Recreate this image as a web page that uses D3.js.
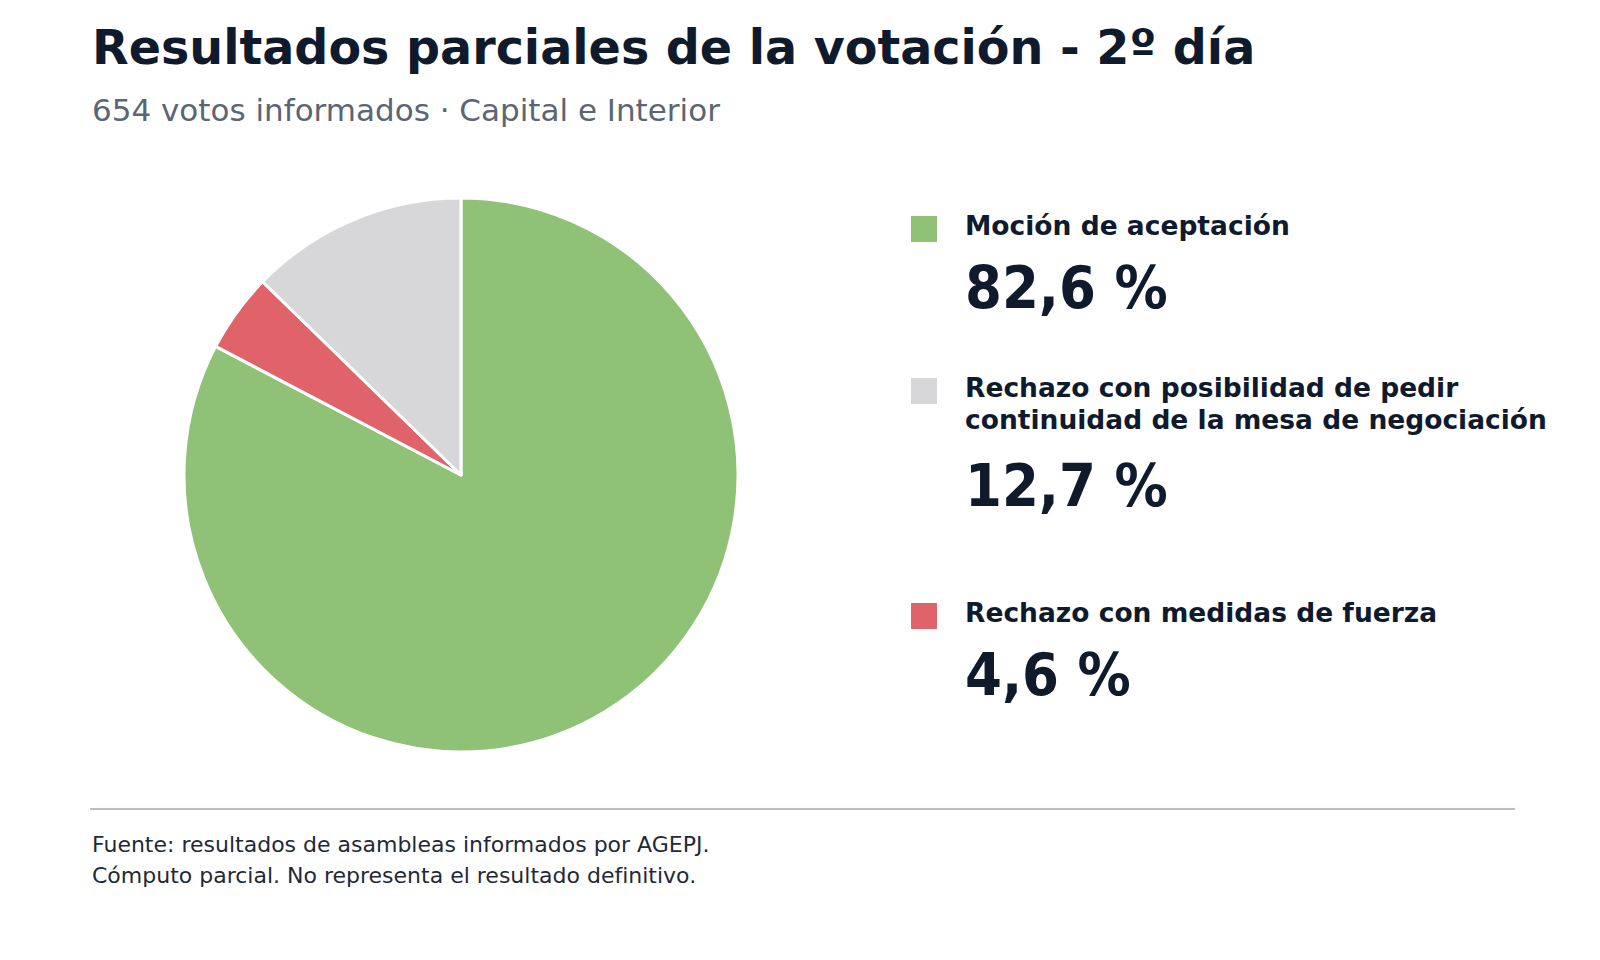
<!DOCTYPE html>
<html lang="es">
<head>
<meta charset="utf-8">
<script src="https://cdn.jsdelivr.net/npm/d3@7"></script>
<style>
  html, body { margin: 0; padding: 0; background: #ffffff; }
  svg { display: block; }
</style>
</head>
<body>
<svg id="chart" width="1600" height="960"></svg>
<script>
// ---- Data ----
const titleText = "Resultados parciales de la votación - 2º día";
const subtitleText = "654 votos informados · Capital e Interior";
const categories = [
  "Moción de aceptación",
  "Rechazo con posibilidad de pedir continuidad de la mesa de negociación",
  "Rechazo con medidas de fuerza"
];
const labelLines = [
  ["Moción de aceptación"],
  ["Rechazo con posibilidad de pedir", "continuidad de la mesa de negociación"],
  ["Rechazo con medidas de fuerza"]
];
const values = [82.6, 12.7, 4.6];
const valueLabels = ["82,6 %", "12,7 %", "4,6 %"];
const colors = ["#8fc277", "#d7d7d9", "#e0636a"];
// clockwise order of slices starting at 12 o'clock
const pieOrder = [0, 2, 1];
const footerLines = [
  "Fuente: resultados de asambleas informados por AGEPJ.",
  "Cómputo parcial. No representa el resultado definitivo."
];

// ---- Layout ----
const W = 1600, H = 960;
const FONT = "'DejaVu Sans', sans-serif";
const svg = d3.select("#chart");
svg.append("rect").attr("width", W).attr("height", H).attr("fill", "#ffffff");

svg.append("text")
  .attr("x", 92).attr("y", 64)
  .attr("font-family", FONT).attr("font-weight", 700).attr("font-size", 47.6)
  .attr("fill", "#0f1b2d")
  .text(titleText);

svg.append("text")
  .attr("x", 92).attr("y", 121)
  .attr("font-family", FONT).attr("font-size", 31)
  .attr("fill", "#5b6573")
  .text(subtitleText);

// ---- Pie ----
const cx = 461, cy = 475, R = 277;
const pieData = pieOrder.map(i => ({ idx: i, value: values[i] }));
const pie = d3.pie().sort(null).value(d => d.value);
const arc = d3.arc().innerRadius(0).outerRadius(R);
const g = svg.append("g").attr("transform", `translate(${cx},${cy})`);
g.selectAll("path")
  .data(pie(pieData))
  .join("path")
  .attr("d", arc)
  .attr("fill", d => colors[d.data.idx])
  .attr("stroke", "#ffffff")
  .attr("stroke-width", 3)
  .attr("stroke-linejoin", "round");

// ---- Legend ----
const legendX = 911, textX = 965;
const legendTop = [216, 378, 603];
const leg = svg.append("g");
categories.forEach((c, i) => {
  const top = legendTop[i];
  leg.append("rect")
    .attr("x", legendX).attr("y", top)
    .attr("width", 26).attr("height", 26)
    .attr("fill", colors[i]);
  const lines = labelLines[i];
  const t = leg.append("text")
    .attr("font-family", FONT).attr("font-weight", 700).attr("font-size", 26.5)
    .attr("fill", "#0f1b2d");
  lines.forEach((ln, k) => {
    t.append("tspan").attr("x", textX).attr("y", top + 19 + k * 32).text(ln);
  });
  leg.append("text")
    .attr("x", textX).attr("y", top + 92 + (lines.length - 1) * 36)
    .attr("font-family", "'DejaVu Sans Condensed', 'DejaVu Sans', sans-serif")
    .attr("font-stretch", "condensed")
    .attr("font-weight", 700).attr("font-size", 59)
    .attr("fill", "#0f1b2d")
    .text(valueLabels[i]);
});

// ---- Footer ----
svg.append("line")
  .attr("x1", 90).attr("x2", 1515)
  .attr("y1", 809).attr("y2", 809)
  .attr("stroke", "#b9bdc7").attr("stroke-width", 2);

svg.append("g").selectAll("text")
  .data(footerLines)
  .join("text")
  .attr("x", 92).attr("y", (d, i) => 852 + i * 31)
  .attr("font-family", FONT).attr("font-size", 22)
  .attr("fill", "#1f2937")
  .text(d => d);
</script>
</body>
</html>
